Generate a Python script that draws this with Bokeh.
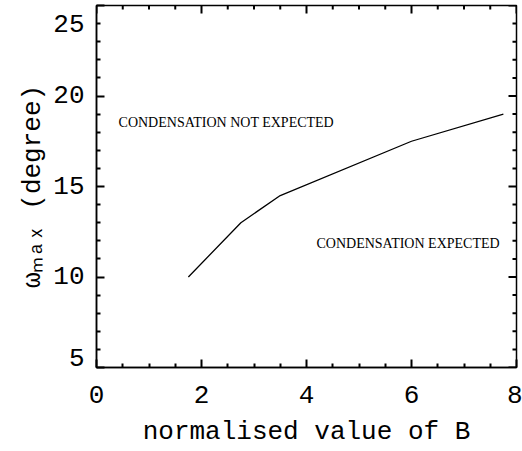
from bokeh.plotting import figure
from bokeh.models import ColumnDataSource, FixedTicker, LinearAxis, Label, Range1d
from bokeh.embed import file_html
from bokeh.resources import INLINE

# Critical angle curve vs normalised field strength
b_norm = [1.75, 2.75, 3.5, 6.0, 7.75]
omega_max = [10.0, 13.0, 14.5, 17.5, 19.0]

X_LO, X_HI = 0, 8
Y_LO, Y_HI = 5, 25
x_major = [0, 2, 4, 6, 8]
x_minor = [i * 0.5 for i in range(1, 16) if i % 4]
y_major = [5, 10, 15, 20, 25]
y_minor = [v for v in range(6, 25) if v % 5]

region_labels = ["CONDENSATION NOT EXPECTED", "CONDENSATION EXPECTED"]
region_x = [0.42, 4.19]
region_y = [18.56, 11.83]

AX_FONT = "Liberation Mono"
AX_SIZE = "26px"

W, H = 522, 451
BORDER_L, BORDER_R, BORDER_T, BORDER_B = 96, 6, 5, 84
MAJOR_PX, MINOR_PX = 8, 4
TICK_W = 2

p = figure(width=W, height=H, output_backend="svg", toolbar_location=None,
           x_range=Range1d(X_LO, X_HI), y_range=Range1d(Y_LO, Y_HI),
           min_border_left=BORDER_L, min_border_right=BORDER_R,
           min_border_top=BORDER_T, min_border_bottom=BORDER_B,
           x_axis_location=None, y_axis_location=None)
p.grid.visible = False
p.outline_line_color = "black"
p.outline_line_width = 1.5


def style_axis(ax, ticks, minor):
    ax.ticker = FixedTicker(ticks=ticks, minor_ticks=minor)
    ax.axis_line_color = "black"
    ax.axis_line_width = 1.5
    ax.major_tick_in = MAJOR_PX
    ax.major_tick_out = 0
    ax.minor_tick_in = MINOR_PX
    ax.minor_tick_out = 0
    ax.major_tick_line_color = "black"
    ax.minor_tick_line_color = "black"
    ax.major_tick_line_width = TICK_W
    ax.minor_tick_line_width = TICK_W
    ax.major_label_text_font = AX_FONT
    ax.major_label_text_font_size = AX_SIZE
    ax.major_label_text_color = "black"
    ax.axis_label_text_font = AX_FONT
    ax.axis_label_text_font_size = AX_SIZE
    ax.axis_label_text_font_style = "normal"
    ax.axis_label_text_color = "black"


xb = LinearAxis(axis_label="normalised value of B")
style_axis(xb, x_major, x_minor)
xb.major_label_standoff = 18
xb.axis_label_standoff = 11
xb.axis_label_text_line_height = 0.8
p.add_layout(xb, "below")

yl = LinearAxis(axis_label="ωₘₐₓ (degree)")
style_axis(yl, y_major, y_minor)
yl.major_label_standoff = 12
yl.axis_label_standoff = 2
# keep the end labels inside the frame height
yl.major_label_overrides = {Y_HI: "\n25", Y_LO: "5\n\n"}
yl.major_label_text_line_height = 0.3
p.add_layout(yl, "left")

# mirrored inward ticks on the top and right edges
frame_w = W - BORDER_L - BORDER_R
frame_h = H - BORDER_T - BORDER_B
dx_per_px = (X_HI - X_LO) / frame_w
dy_per_px = (Y_HI - Y_LO) / frame_h
top_x, top_y, right_x, right_y = [], [], [], []
for vals, px in ((x_major, MAJOR_PX), (x_minor, MINOR_PX)):
    for v in vals:
        top_x.append([v, v])
        top_y.append([Y_HI, Y_HI - px * dy_per_px])
for vals, px in ((y_major, MAJOR_PX), (y_minor, MINOR_PX)):
    for v in vals:
        right_x.append([X_HI, X_HI - px * dx_per_px])
        right_y.append([v, v])
ticks = ColumnDataSource(data=dict(xs=top_x + right_x, ys=top_y + right_y))
p.multi_line("xs", "ys", source=ticks, line_color="black", line_width=TICK_W)

src = ColumnDataSource(data=dict(x=b_norm, y=omega_max))
p.line("x", "y", source=src, line_color="black", line_width=1.3)

for t, xv, yv in zip(region_labels, region_x, region_y):
    p.add_layout(Label(x=xv, y=yv, text=t, text_align="left",
                       text_baseline="middle", text_font="Liberation Serif",
                       text_font_size="14px", text_color="black"))

open("out.html", "w").write(file_html(p, INLINE))
